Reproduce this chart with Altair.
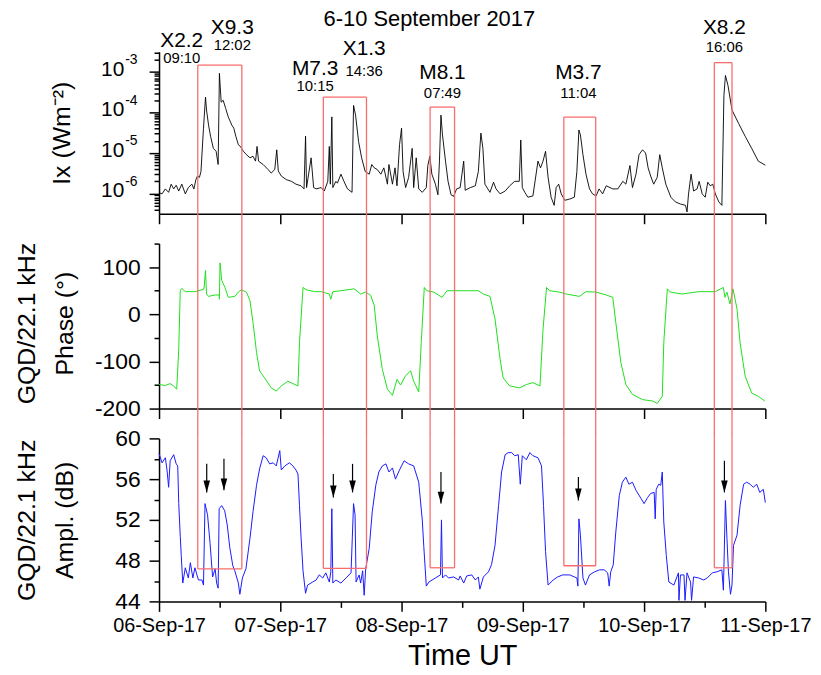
import json
import altair as alt
import pandas as pd

TITLE = "6-10 September 2017"
DAY_LABELS = ["06-Sep-17", "07-Sep-17", "08-Sep-17", "09-Sep-17", "10-Sep-17", "11-Sep-17"]

# X-ray flux (hours since 06-Sep-17 00:00 UT, W/m^2)
IX_H = [0, 0.6, 1.25, 1.9, 2.4, 2.9, 3.4, 3.9, 4.5, 5.2, 5.8, 6.5, 6.9, 7.3, 7.6, 8.0, 8.3, 8.8, 9.2,
        9.4, 9.8, 10.2, 10.75, 11.3, 11.7, 11.95, 12.3, 12.7, 13.2, 13.7, 14.4, 14.8, 15.2, 15.7, 16.1,
        16.7, 17.3, 18.0, 18.6, 19.1, 19.4, 19.7, 20.6, 21.6, 22.2, 22.9, 23.3, 23.6, 24.2, 25.2, 26.2,
        27.1, 28.1, 28.7, 29.0, 29.2, 30.1, 30.6, 31.1, 32.1, 32.7, 33.4, 33.7, 33.9, 34.2, 34.4, 35.0,
        35.3, 36.0, 36.6, 37.3, 38.2, 38.5, 38.9, 39.5, 40.1, 40.8, 41.6, 42.1, 42.6, 43.2, 43.9, 44.5,
        45.2, 45.5, 46.2, 46.7, 47.1, 47.6, 48.0, 48.3, 48.8, 49.4, 50.1, 50.4, 50.9, 51.4, 52.1, 52.9,
        53.2, 53.6, 54.0, 54.7, 55.2, 55.5, 55.8, 56.1, 56.7, 57.2, 57.8, 58.3, 58.9, 59.6, 60.3, 60.6,
        61.6, 62.6, 63.2, 63.7, 64.1, 64.5, 65.5, 66.2, 66.7, 67.5, 68.5, 69.4, 70.4, 71.3, 71.6, 71.9,
        72.4, 73.0, 74.0, 75.0, 75.5, 76.0, 76.5, 77.0, 77.6, 78.2, 78.6, 79.1, 79.6, 80.3, 81.3, 82.2,
        82.7, 83.1, 83.4, 83.9, 84.5, 85.2, 85.8, 86.5, 87.1, 87.8, 88.5, 89.8, 90.8, 91.8, 92.4, 93.2,
        93.7, 94.4, 95.0, 95.7, 96.3, 96.8, 97.3, 97.9, 98.6, 99.1, 99.6, 100.3, 101.3, 102.2, 103.2,
        104.2, 104.5, 104.8, 105.3, 105.8, 106.5, 106.9, 107.5, 108.1, 108.6, 109.1, 109.6, 110.1, 110.8,
        111.4, 111.8, 112.1, 112.6, 113.4, 114.7, 116.0, 117.3, 118.6, 120.0]
IX_V = [1.05e-6, 9.8e-7, 1.3e-6, 1.07e-6, 1.7e-6, 1.3e-6, 1.6e-6, 1.15e-6, 1.7e-6, 9.8e-7, 1.4e-6,
        1.7e-6, 1.3e-6, 2.2e-6, 2.7e-6, 2.5e-6, 3.5e-6, 4.1e-5, 2.4e-4, 1.15e-4, 4.9e-5, 2.6e-5, 1.3e-5,
        1.1e-5, 5.2e-6, 9.3e-4, 1.8e-4, 2.0e-4, 1.25e-4, 7.8e-5, 4.9e-5, 4.1e-5, 2.6e-5, 1.6e-5, 1.45e-5,
        1.1e-5, 9.1e-6, 7.6e-6, 8.3e-6, 6.3e-6, 1.45e-5, 6.3e-6, 5.2e-6, 3.9e-6, 3.2e-6, 3.9e-6, 1.2e-5,
        3.6e-6, 2.7e-6, 2.2e-6, 2.0e-6, 1.7e-6, 1.55e-6, 1.3e-6, 2.6e-5, 1.4e-6, 7.6e-6, 1.4e-6, 1.3e-6,
        1.4e-6, 1.15e-6, 2.0e-6, 1.45e-5, 1.7e-6, 7.8e-5, 1.4e-6, 2.0e-6, 1.8e-6, 3.0e-6, 2.0e-6, 1.3e-6,
        1.07e-6, 1.5e-4, 8.6e-5, 1.9e-5, 7.6e-6, 3.5e-6, 3.0e-6, 5.2e-6, 4.3e-6, 3.9e-6, 3.0e-6, 4.3e-6,
        1.7e-6, 5.2e-6, 1.7e-6, 4.3e-6, 1.55e-6, 1.6e-5, 4.1e-5, 3.5e-6, 1.4e-6, 2.5e-6, 1.3e-5, 1.4e-6,
        7.6e-6, 1.3e-6, 1.07e-6, 1.4e-6, 4.9e-6, 8.3e-6, 3.0e-6, 1.7e-6, 9.3e-7, 6.3e-6, 8.6e-5, 2.8e-5,
        6.3e-6, 2.0e-6, 9.3e-7, 8.5e-7, 1.3e-6, 1.4e-6, 6.3e-6, 1.2e-6, 1.4e-6, 1.55e-6, 3.5e-6, 3.1e-5,
        1.3e-5, 1.7e-6, 1.07e-6, 1.9e-6, 1.3e-6, 9.8e-7, 1.15e-6, 1.55e-6, 2.0e-6, 2.0e-6, 2.1e-5, 1.4e-6,
        1.07e-6, 8.1e-7, 8.7e-7, 6.3e-6, 4.3e-6, 6.3e-6, 1.1e-5, 2.5e-6, 8.1e-7, 5.1e-7, 1.4e-6, 1.7e-6,
        9.8e-7, 6.8e-7, 7.3e-7, 8.1e-7, 3.5e-6, 3.7e-5, 2.8e-5, 9.1e-6, 3.0e-6, 1.3e-6, 9.8e-7, 8.7e-7,
        1.3e-6, 9.8e-7, 1.55e-6, 1.3e-6, 1.3e-6, 2.0e-6, 1.7e-6, 4.9e-6, 1.4e-6, 3.0e-6, 9.1e-6, 1.2e-5,
        1.0e-5, 4.3e-6, 2.7e-6, 1.7e-6, 2.5e-6, 9.1e-6, 4.3e-6, 1.7e-6, 8.1e-7, 6.2e-7, 5.5e-7, 5.1e-7,
        3.5e-7, 9.8e-7, 3.0e-6, 1.15e-6, 1.3e-6, 2.0e-6, 9.8e-7, 8.1e-7, 1.9e-6, 1.55e-6, 1.7e-6, 9.8e-7,
        6.2e-7, 5.1e-7, 2.6e-4, 8.2e-4, 4.7e-4, 1.15e-4, 5.4e-5, 2.6e-5, 1.3e-5, 6.3e-6, 5.0e-6]

# GQD 22.1 kHz phase (degrees)
PH_H = [0, 1.25, 2.2, 2.9, 3.5, 3.9, 4.2, 4.5, 5.2, 7.1, 8.5, 8.9, 9.2, 9.4, 9.8, 11.1, 11.9, 11.95,
        12.07, 12.4, 13.05, 13.7, 15.0, 15.7, 16.3, 17.3, 18.0, 18.6, 19.3, 19.9, 20.9, 22.2, 23.2, 24.2,
        25.5, 26.5, 27.5, 27.8, 28.5, 29.1, 30.8, 32.1, 33.7, 34.0, 34.4, 36.0, 38.6, 39.9, 40.9, 41.9,
        42.6, 43.2, 44.2, 45.2, 46.2, 47.1, 47.8, 48.8, 49.8, 50.4, 51.4, 51.9, 52.5, 53.0, 54.4, 56.0,
        57.0, 59.6, 61.0, 63.2, 64.2, 65.5, 66.5, 67.5, 68.1, 69.4, 71.4, 72.7, 74.0, 75.4, 76.0, 76.7,
        77.3, 79.3, 80.6, 83.2, 84.5, 86.5, 88.5, 89.8, 90.4, 91.4, 92.4, 93.7, 95.7, 97.7, 98.6, 99.6,
        99.9, 100.6, 101.2, 103.5, 106.8, 110.1, 111.7, 112.0, 112.4, 113.0, 113.6, 114.4, 115.0, 116.0,
        117.3, 118.6, 119.9]
PH_V = [-149, -151, -147, -152, -159, -74, 50, 55, 48, 48, 52, 54, 93, 43, 38, 41, 41, 32,
        109, 72, 57, 36, 38, 47, 52, 47, 29, -17, -81, -120, -135, -156, -163, -152,
        -142, -147, -152, -60, 57, 52, 48, 48, 43, 32, 48, 50, 54, 43, 47, 40,
        18, -46, -117, -159, -172, -138, -150, -130, -120, -142, -165, -60, 57, 50, 47, 36,
        50, 50, 50, 50, 43, 38, -10, -95, -135, -152, -156, -149, -145, -152, -32, 57,
        50, 47, 43, 38, 48, 47, 41, 36, -17, -102, -149, -170, -181, -184, -189, -174,
        -60, 54, 47, 43, 48, 48, 57, 36, 47, 22, 54, 11, -60, -131,
        -167, -174, -184]

# GQD 22.1 kHz amplitude (dB)
AM_H = [0, 0.6, 1.25, 1.6, 1.9, 2.2, 2.9, 3.4, 3.7, 3.9, 4.2, 4.4, 4.7, 5.2, 5.8, 6.2, 6.7, 7.1, 7.8,
        8.5, 8.8, 9.1, 9.6, 10.1, 10.6, 11.1, 11.4, 11.7, 11.9, 12.4, 13.0, 13.5, 14.0, 14.6, 15.0, 15.7,
        16.0, 16.5, 17.2, 18.0, 18.6, 19.3, 19.9, 20.6, 21.2, 21.9, 22.6, 23.2, 23.9, 24.2, 24.9, 25.8,
        26.5, 27.1, 27.5, 27.8, 28.1, 28.5, 29.0, 29.4, 30.4, 31.1, 31.7, 32.4, 33.0, 33.7, 34.0, 34.2,
        34.4, 35.0, 36.0, 37.0, 38.0, 38.5, 38.8, 39.0, 39.6, 39.9, 40.3, 40.6, 40.9, 41.6, 42.2, 42.9,
        43.5, 44.2, 44.9, 45.5, 46.2, 46.8, 47.5, 48.5, 49.4, 50.4, 51.4, 52.1, 52.4, 52.9, 53.4, 54.7,
        55.7, 55.9, 56.1, 56.7, 57.3, 58.3, 59.3, 59.6, 60.3, 60.9, 61.9, 62.6, 63.2, 63.5, 64.2, 65.2,
        65.8, 66.5, 67.2, 67.8, 68.5, 69.1, 69.8, 70.4, 71.1, 71.5, 71.9, 72.7, 73.4, 74.0, 75.0, 75.7,
        76.1, 76.5, 77.0, 78.0, 78.9, 79.9, 81.3, 82.2, 82.7, 82.9, 83.1, 83.4, 83.9, 84.4, 85.2, 86.2,
        87.2, 88.1, 88.8, 89.1, 89.4, 89.9, 90.4, 91.1, 91.7, 92.4, 93.0, 93.7, 94.4, 95.4, 96.0, 96.7,
        97.3, 98.0, 98.2, 98.4, 98.9, 99.3, 99.6, 99.9, 100.4, 100.9, 101.9, 102.8, 102.9, 103.2, 103.9,
        104.1, 104.5, 105.2, 105.4, 105.8, 106.8, 107.8, 108.5, 109.5, 110.4, 111.4, 111.7, 112.1, 112.4,
        112.7, 113.1, 113.4, 113.7, 114.4, 115.0, 115.7, 116.3, 117.0, 117.6, 118.3, 118.9, 119.6, 120.0]
AM_V = [58.5, 57.6, 58.1, 56.8, 55.2, 57.8, 58.4, 57.5, 57.3, 53.6, 50.4, 48.5, 45.8, 47.3, 46.3, 47.8,
        46.3, 47.3, 46.1, 46.1, 45.6, 53.6, 52.5, 49.7, 46.4, 47.2, 45.8, 45.3, 53.1, 53.4, 52.9, 51.5,
        49.3, 47.5, 47.0, 45.8, 44.7, 46.3, 47.2, 50.2, 52.8, 55.4, 57.0, 58.3, 58.1, 57.5, 57.6, 57.3,
        58.8, 56.9, 57.3, 57.6, 57.3, 56.9, 56.5, 53.4, 50.4, 47.0, 44.8, 45.6, 45.9, 46.1, 46.6, 46.3,
        46.8, 45.9, 46.9, 53.1, 45.8, 46.1, 45.8, 46.3, 46.8, 53.6, 52.5, 45.9, 46.6, 45.8, 47.0, 44.6,
        47.2, 49.2, 52.8, 55.4, 56.7, 57.3, 57.5, 56.7, 57.1, 56.0, 56.8, 57.8, 57.5, 57.3, 55.7, 52.0,
        49.4, 45.5, 45.9, 46.3, 46.6, 52.0, 46.3, 46.6, 46.3, 46.4, 46.1, 46.5, 45.8, 46.5, 46.6, 46.1,
        46.4, 45.2, 46.4, 46.9, 47.6, 49.5, 53.4, 56.7, 58.4, 58.6, 58.6, 58.3, 58.4, 55.5, 58.3, 57.9,
        58.6, 58.3, 58.1, 57.3, 53.4, 48.9, 45.6, 46.1, 46.4, 46.6, 46.6, 46.4, 46.3, 45.5, 52.1, 50.5,
        46.3, 45.6, 46.6, 46.9, 47.1, 47.1, 46.8, 45.5, 46.9, 47.6, 50.8, 54.4, 55.7, 56.2, 55.5, 55.7,
        54.9, 54.1, 53.6, 54.2, 54.6, 54.7, 52.1, 55.0, 55.5, 55.4, 56.7, 51.8, 48.5, 45.9, 45.6, 46.8,
        44.1, 46.6, 46.6, 44.1, 46.8, 45.9, 44.1, 46.4, 46.3, 46.1, 46.3, 46.8, 46.9, 47.1, 45.1, 53.9,
        50.2, 46.9, 44.7, 45.6, 49.5, 50.5, 53.4, 55.5, 55.7, 55.5, 55.2, 55.5, 54.7, 55.0, 53.7]

FLARE_CLASS = ["X2.2", "X9.3", "M7.3", "X1.3", "M8.1", "M3.7", "X8.2"]
FLARE_TIME = ["09:10", "12:02", "10:15", "14:36", "07:49", "11:04", "16:06"]
FLARE_LABEL_H = [4.5, 14.5, 30.9, 40.6, 56.1, 83.0, 111.9]
FLARE_CLASS_Y = [4.2e-3, 8.8e-3, 8.6e-4, 2.6e-3, 6.6e-4, 6.6e-4, 8.8e-3]
FLARE_TIME_Y = [1.65e-3, 3.4e-3, 3.4e-4, 8.0e-4, 2.3e-4, 2.3e-4, 3.2e-3]

BOX_START = [7.67, 32.52, 53.65, 80.12, 109.9]
BOX_END = [16.39, 41.06, 58.49, 86.42, 113.4]
BOX_TOP_IX = [1.48e-3, 2.4e-4, 1.36e-4, 7.7e-5, 1.7e-3]
BOX_BOTTOM_DB = [47.2, 47.25, 47.3, 47.5, 47.3]

ARROW_H = [9.44, 12.85, 34.5, 38.3, 55.8, 83.0, 111.9]
ARROW_TOP = [57.5, 58.0, 56.5, 57.5, 56.7, 56.2, 57.8]
ARROW_TIP = [54.7, 54.9, 54.2, 54.7, 53.6, 53.9, 54.7]

IX_DECADES = [1e-6, 1e-5, 1e-4, 1e-3]
IX_EXP = ["-6", "-5", "-4", "-3"]
TITLE_H, TITLE_Y = 53.5, 1.4e-2

# ---------------- layout / style ----------------
W = 610
H1, H2, H3 = 163, 166, 164
GAP = 30
IX_MIN, IX_MAX = 10 ** -6.5, 10 ** -2.5
RED = "#f76d6d"
GREEN = "#1ee01e"
BLUE = "#1a1aff"
FONT = "Liberation Sans"

xs = alt.Scale(domain=[0, 120], nice=False, zero=False)
ys_ix = alt.Scale(type="log", domain=[IX_MIN, IX_MAX], nice=False)
ys_ph = alt.Scale(domain=[-200, 150], nice=False, zero=False)
ys_am = alt.Scale(domain=[44, 60], nice=False, zero=False)

major_days = [0, 24, 48, 72, 96, 120]
x_axis_plain = alt.Axis(values=major_days, labels=False, title=None, tickSize=10)
label_arr = json.dumps(DAY_LABELS)
x_axis_bottom = alt.Axis(
    values=list(range(0, 121, 12)),
    labelExpr=f"datum.value % 24 == 0 ? {label_arr}[datum.value / 24] : ''",
    tickSize={"condition": {"test": "datum.value % 24 == 0", "value": 10}, "value": 6},
    labelFontSize=20, labelPadding=4, labelOverlap=False, labelFlush=False, labelBound=False,
    title="Time UT", titleFontSize=29, titlePadding=6,
)

ix_minor = [m * 10 ** e for e in range(-7, -2) for m in range(1, 10)
            if IX_MIN <= m * 10 ** e <= IX_MAX]
y_axis_ix = alt.Axis(
    values=ix_minor, labels=False,
    tickSize={"condition": {"test": "abs(log(datum.value) / LN10 - round(log(datum.value) / LN10)) < 0.001",
                            "value": 10}, "value": 5},
    title="Ix (Wm\u207b\u00b2)", titleX=-98, titleY=H1 / 2, titleAngle=-90,
    titleAlign="center", titleBaseline="middle", titleFontSize=25,
)
y_axis_ph = alt.Axis(
    values=list(range(-200, 151, 50)),
    labelExpr="datum.value % 100 == 0 ? '' + datum.value : ''",
    tickSize={"condition": {"test": "datum.value % 100 == 0", "value": 10}, "value": 5},
    labelFontSize=23, labelPadding=9, labelOverlap=False,
    title=["GQD/22.1 kHz", "Phase (\u00b0)"], titleX=-133, titleY=H2 / 2 - 3, titleAngle=-90,
    titleAlign="center", titleBaseline="middle", titleFontSize=25, titleLineHeight=38,
)
y_axis_am = alt.Axis(
    values=list(range(44, 61, 2)),
    labelExpr="datum.value % 4 == 0 ? '' + datum.value : ''",
    tickSize={"condition": {"test": "datum.value % 4 == 0", "value": 10}, "value": 5},
    labelFontSize=23, labelPadding=9, labelOverlap=False,
    title=["GQD/22.1 kHz", "Ampl. (dB)"], titleX=-133, titleY=H3 / 2, titleAngle=-90,
    titleAlign="center", titleBaseline="middle", titleFontSize=25, titleLineHeight=38,
)


def X(field, axis):
    return alt.X(field, scale=xs, axis=axis)


ix_df = pd.DataFrame({"h": IX_H, "v": IX_V})
ph_df = pd.DataFrame({"h": PH_H, "v": PH_V})
am_df = pd.DataFrame({"h": AM_H, "v": AM_V})
flare_df = pd.DataFrame({"h": FLARE_LABEL_H, "cls": FLARE_CLASS, "t": FLARE_TIME,
                         "cy": FLARE_CLASS_Y, "ty": FLARE_TIME_Y})
box_df = pd.DataFrame({"x1": BOX_START, "x2": BOX_END, "top": BOX_TOP_IX, "bot": BOX_BOTTOM_DB})
edge_df = pd.DataFrame({
    "x": BOX_START + BOX_END,
    "top": BOX_TOP_IX + BOX_TOP_IX,
    "bot": BOX_BOTTOM_DB + BOX_BOTTOM_DB,
})
arrow_df = pd.DataFrame({"h": ARROW_H, "top": ARROW_TOP, "tip": ARROW_TIP})
dec_df = pd.DataFrame({"v": IX_DECADES, "e": IX_EXP, "h": [0] * len(IX_DECADES)})
title_df = pd.DataFrame({"h": [TITLE_H], "v": [TITLE_Y], "t": [TITLE]})


# ---------------- top panel: X-ray flux ----------------
def YI(field):
    return alt.Y(field, scale=ys_ix, axis=y_axis_ix)


top_line = alt.Chart(ix_df).mark_line(color="black", strokeWidth=0.9).encode(
    x=X("h:Q", x_axis_plain), y=YI("v:Q"))
top_edges = alt.Chart(edge_df).mark_rule(color=RED, strokeWidth=1.3).encode(
    x=X("x:Q", x_axis_plain), y=YI("top:Q"), y2=alt.datum(IX_MIN))
top_caps = alt.Chart(box_df).mark_rule(color=RED, strokeWidth=1.3).encode(
    x=X("x1:Q", x_axis_plain), x2="x2:Q", y=YI("top:Q"))
cls_text = alt.Chart(flare_df).mark_text(fontSize=21, align="center", baseline="alphabetic").encode(
    x=X("h:Q", x_axis_plain), y=YI("cy:Q"), text="cls:N")
time_text = alt.Chart(flare_df).mark_text(fontSize=15, align="center", baseline="alphabetic").encode(
    x=X("h:Q", x_axis_plain), y=YI("ty:Q"), text="t:N")
ten_text = alt.Chart(dec_df).mark_text(text="10", fontSize=21, align="right", baseline="middle",
                                       dx=-35, dy=-2).encode(x=X("h:Q", x_axis_plain), y=YI("v:Q"))
exp_text = alt.Chart(dec_df).mark_text(fontSize=14, align="left", baseline="middle",
                                       dx=-34, dy=-12).encode(
    x=X("h:Q", x_axis_plain), y=YI("v:Q"), text="e:N")
title_text = alt.Chart(title_df).mark_text(fontSize=22, align="center", baseline="alphabetic").encode(
    x=X("h:Q", x_axis_plain), y=YI("v:Q"), text="t:N")
top = alt.layer(top_line, top_edges, top_caps, cls_text, time_text, ten_text, exp_text,
                title_text).properties(width=W, height=H1)

# ---------------- middle panel: phase ----------------
mid_line = alt.Chart(ph_df).mark_line(color=GREEN, strokeWidth=1).encode(
    x=X("h:Q", x_axis_plain), y=alt.Y("v:Q", scale=ys_ph, axis=y_axis_ph))
mid_edges = alt.Chart(edge_df).mark_rule(color=RED, strokeWidth=1.3).encode(
    x=X("x:Q", x_axis_plain), y=alt.value(-GAP), y2=alt.value(H2 + GAP))
mid = alt.layer(mid_line, mid_edges).properties(width=W, height=H2)


# ---------------- bottom panel: amplitude ----------------
def YA(field):
    return alt.Y(field, scale=ys_am, axis=y_axis_am)


bot_line = alt.Chart(am_df).mark_line(color=BLUE, strokeWidth=1).encode(
    x=X("h:Q", x_axis_bottom), y=YA("v:Q"))
bot_edges = alt.Chart(edge_df).mark_rule(color=RED, strokeWidth=1.3).encode(
    x=X("x:Q", x_axis_bottom), y=YA("bot:Q"), y2=alt.datum(60))
bot_caps = alt.Chart(box_df).mark_rule(color=RED, strokeWidth=1.3).encode(
    x=X("x1:Q", x_axis_bottom), x2="x2:Q", y=YA("bot:Q"))
arrow_shaft = alt.Chart(arrow_df).mark_rule(color="black", strokeWidth=1.2).encode(
    x=X("h:Q", x_axis_bottom), y=YA("top:Q"), y2="tip:Q")
arrow_head = alt.Chart(arrow_df).mark_point(
    shape="M-0.55,-1L0.55,-1L0,1Z", filled=True, color="black", opacity=1, size=144, yOffset=-6,
).encode(x=X("h:Q", x_axis_bottom), y=YA("tip:Q"))
bot = alt.layer(bot_line, bot_edges, bot_caps, arrow_shaft, arrow_head).properties(width=W, height=H3)

chart = alt.vconcat(top, mid, bot, spacing=GAP, bounds="flush").properties(
    padding={"left": 15, "top": 5, "right": 10, "bottom": 5},
).configure(font=FONT).configure_view(stroke=None).configure_axis(
    domainColor="black", domainWidth=1.5, tickColor="black", tickWidth=1.5,
    labelColor="black", titleColor="black", titleFontWeight="normal", grid=False,
    labelFont=FONT, titleFont=FONT,
).configure_text(font=FONT, color="black")

chart.save("out.html", embed_options={"renderer": "svg", "actions": False})
